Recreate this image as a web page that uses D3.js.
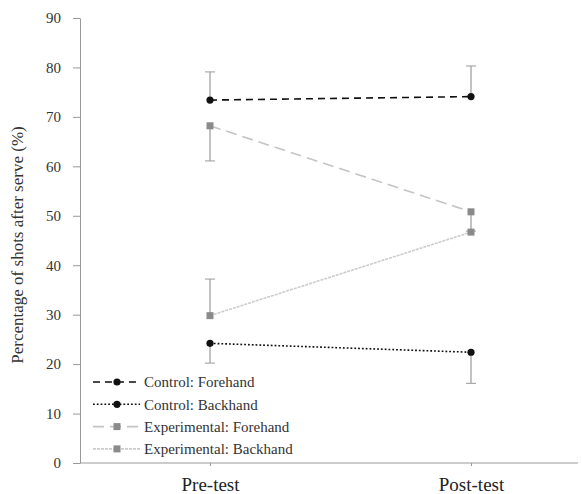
<!DOCTYPE html>
<html>
<head>
<meta charset="utf-8">
<script src="https://cdn.jsdelivr.net/npm/d3@7"></script>
<style>
  body { margin: 0; background: #fff; }
  svg text { font-family: "Liberation Serif", "DejaVu Serif", "Times New Roman", Times, serif !important; }
</style>
</head>
<body>
<svg width="582" height="494"></svg>
<script>
// data
const phases = ["Pre-test", "Post-test"];
const yTicks = [0, 10, 20, 30, 40, 50, 60, 70, 80, 90];

const controlForehand = [73.4, 74.1];
const controlForehandErr = [79.1, 80.3];
const controlBackhand = [24.2, 22.4];
const controlBackhandErr = [20.2, 16.1];
const expForehand = [68.2, 50.8];
const expForehandErr = [61.1, 46.9];
const expBackhand = [29.8, 46.7];
const expBackhandErr = [37.2, 46.7];

const series = [
  { name: "Control: Forehand", vals: controlForehand, err: controlForehandErr,
    line: "#111", dash: "7,5", width: 1.6, mark: "circle", fill: "#111" },
  { name: "Control: Backhand", vals: controlBackhand, err: controlBackhandErr,
    line: "#111", dash: "1.8,2", width: 1.6, mark: "circle", fill: "#111" },
  { name: "Experimental: Forehand", vals: expForehand, err: expForehandErr,
    line: "#c4c4c4", dash: "11,6", width: 1.6, mark: "square", fill: "#8a8a8a" },
  { name: "Experimental: Backhand", vals: expBackhand, err: expBackhandErr,
    line: "#cccccc", dash: "3,1", width: 1.6, mark: "square", fill: "#8a8a8a" }
];

const svg = d3.select("svg");

const x = d3.scalePoint().domain(phases).range([210, 471]);
const y = d3.scaleLinear().domain([0, 90]).range([463, 18]);

// y axis
const yAxis = svg.append("g")
  .attr("transform", "translate(80,0)")
  .call(d3.axisLeft(y).tickValues(yTicks).tickSize(7).tickPadding(12).tickSizeOuter(0));
yAxis.attr("font-family", null);
yAxis.select(".domain").attr("stroke", "#999");
yAxis.selectAll(".tick line").attr("stroke", "#999");
yAxis.selectAll(".tick text")
  .attr("fill", "#333")
  .style("font-size", "15px");

// x axis
const xAxis = svg.append("g")
  .attr("transform", "translate(0,463)")
  .call(d3.axisBottom(x).tickSize(3).tickPadding(12).tickSizeOuter(0));
xAxis.attr("font-family", null);
xAxis.select(".domain").remove();
xAxis.insert("line", ":first-child")
  .attr("x1", 80).attr("x2", 578)
  .attr("stroke", "#999");
xAxis.selectAll(".tick line").attr("stroke", "#999");
xAxis.selectAll(".tick text")
  .attr("fill", "#222")
  .style("font-size", "19px");

// y label
svg.append("text")
  .attr("transform", "translate(23,245) rotate(-90)")
  .attr("text-anchor", "middle")
  .attr("fill", "#333")
  .style("font-size", "17px")
  .text("Percentage of shots after serve (%)");

// error bars
series.forEach(s => {
  const g = svg.append("g");
  phases.forEach((p, i) => {
    const cx = x(p);
    g.append("line")
      .attr("x1", cx).attr("x2", cx)
      .attr("y1", y(s.vals[i])).attr("y2", y(s.err[i]))
      .attr("stroke", "#999").attr("stroke-width", 1.2);
    if (s.err[i] !== s.vals[i]) {
      g.append("line")
        .attr("x1", cx - 5).attr("x2", cx + 5)
        .attr("y1", y(s.err[i])).attr("y2", y(s.err[i]))
        .attr("stroke", "#aaa").attr("stroke-width", 1.2);
    }
  });
});

// lines
const line = d3.line().x((d, i) => x(phases[i])).y(d => y(d));
series.forEach(s => {
  svg.append("path")
    .attr("d", line(s.vals))
    .attr("fill", "none")
    .attr("stroke", s.line)
    .attr("stroke-width", s.width)
    .attr("stroke-dasharray", s.dash);
});

function drawMark(g, s, cx, cy) {
  if (s.mark === "circle") {
    g.append("circle").attr("cx", cx).attr("cy", cy).attr("r", 3.6).attr("fill", s.fill);
  } else {
    g.append("rect").attr("x", cx - 3.5).attr("y", cy - 3.5)
      .attr("width", 7).attr("height", 7).attr("fill", s.fill);
  }
}

// markers
series.forEach(s => {
  const g = svg.append("g");
  s.vals.forEach((v, i) => drawMark(g, s, x(phases[i]), y(v)));
});

// legend
const legend = svg.append("g");
series.forEach((s, i) => {
  const ly = 382 + i * 22.3;
  legend.append("line")
    .attr("x1", 93).attr("x2", 140)
    .attr("y1", ly).attr("y2", ly)
    .attr("stroke", s.line)
    .attr("stroke-width", s.width)
    .attr("stroke-dasharray", s.dash);
  drawMark(legend, s, 117, ly);
  legend.append("text")
    .attr("x", 144).attr("y", ly)
    .attr("dy", "0.35em")
    .attr("fill", "#333")
    .style("font-size", "15px")
    .text(s.name);
});
</script>
</body>
</html>
